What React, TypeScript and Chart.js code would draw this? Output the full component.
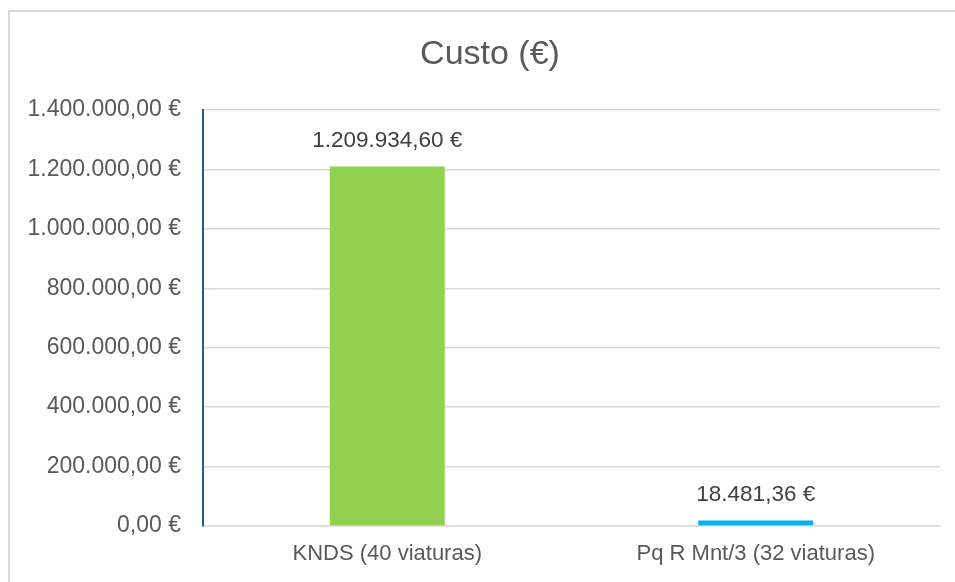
import React, { useEffect, useRef } from "react";
import { Chart, registerables } from "chart.js";

Chart.register(...registerables);

const categories: string[] = ["KNDS (40 viaturas)", "Pq R Mnt/3 (32 viaturas)"];
const costValues: number[] = [1209934.6, 18481.36];
const barColors: string[] = ["#92D050", "#00B0F0"];
const chartTitle = "Custo (€)";
const yMin = 0;
const yMax = 1400000;
const yStep = 200000;

function formatEuro(v: number): string {
  const neg = v < 0;
  const abs = Math.abs(v);
  const fixed = abs.toFixed(2);
  const [intPart, dec] = fixed.split(".");
  const withDots = intPart.replace(/\B(?=(\d{3})+(?!\d))/g, ".");
  return (neg ? "-" : "") + withDots + "," + dec + " €";
}

const FONT = "'Liberation Sans', Arial, sans-serif";

const decorPlugin = {
  id: "decor",
  beforeDraw(chart: any) {
    const ctx = chart.ctx;
    ctx.save();
    ctx.fillStyle = "#ffffff";
    ctx.fillRect(0, 0, chart.width, chart.height);
    ctx.strokeStyle = "#d9d9d9";
    ctx.lineWidth = 2;
    ctx.beginPath();
    ctx.moveTo(9, chart.height + 5);
    ctx.lineTo(9, 11);
    ctx.lineTo(chart.width + 5, 11);
    ctx.stroke();
    ctx.fillStyle = "#595959";
    ctx.font = `34px ${FONT}`;
    ctx.textAlign = "center";
    ctx.textBaseline = "middle";
    ctx.fillText(chartTitle, 490, 55);
    ctx.restore();
  },
  afterDatasetsDraw(chart: any) {
    const ctx = chart.ctx;
    const meta = chart.getDatasetMeta(0);
    ctx.save();
    ctx.fillStyle = "#404040";
    ctx.font = `22.5px ${FONT}`;
    ctx.textAlign = "center";
    ctx.textBaseline = "middle";
    meta.data.forEach((bar: any, i: number) => {
      ctx.fillText(formatEuro(costValues[i]), bar.x, bar.y - 26);
    });
    ctx.restore();
  },
};

export default function App() {
  const ref = useRef<HTMLCanvasElement | null>(null);
  useEffect(() => {
    if (!ref.current) return;
    const chart = new Chart(ref.current, {
      type: "bar",
      data: {
        labels: categories,
        datasets: [
          {
            label: chartTitle,
            data: costValues,
            backgroundColor: barColors,
            borderWidth: 0,
            categoryPercentage: 1,
            barPercentage: 0.312,
          },
        ],
      },
      options: {
        responsive: false,
        animation: false,
        layout: { padding: { left: 0, top: 110, right: 15, bottom: 0 } },
        plugins: {
          legend: { display: false },
          title: { display: false },
          tooltip: { enabled: false },
        },
        scales: {
          x: {
            grid: { display: false, drawTicks: false },
            border: { color: "#d9d9d9", width: 1.5 },
            ticks: {
              color: "#595959",
              font: { family: FONT, size: 22 },
              padding: 15,
              maxRotation: 0,
            },
            afterFit(scale: any) {
              scale.height = 56;
            },
          },
          y: {
            min: yMin,
            max: yMax,
            grid: { color: "#d9d9d9", lineWidth: 1.5, drawTicks: false },
            border: { color: "#1F5C8B", width: 2 },
            ticks: {
              stepSize: yStep,
              color: "#595959",
              font: { family: FONT, size: 23 },
              padding: 22,
              callback: (v: any) => formatEuro(Number(v)),
            },
            afterFit(scale: any) {
              scale.width = 203;
            },
          },
        },
      },
      plugins: [decorPlugin],
    });
    return () => chart.destroy();
  }, []);
  return (
    <div style={{ position: "absolute", left: 0, top: 0, width: 955, height: 582, background: "#fff" }}>
      <canvas ref={ref} width={955} height={582} style={{ display: "block" }} />
    </div>
  );
}
